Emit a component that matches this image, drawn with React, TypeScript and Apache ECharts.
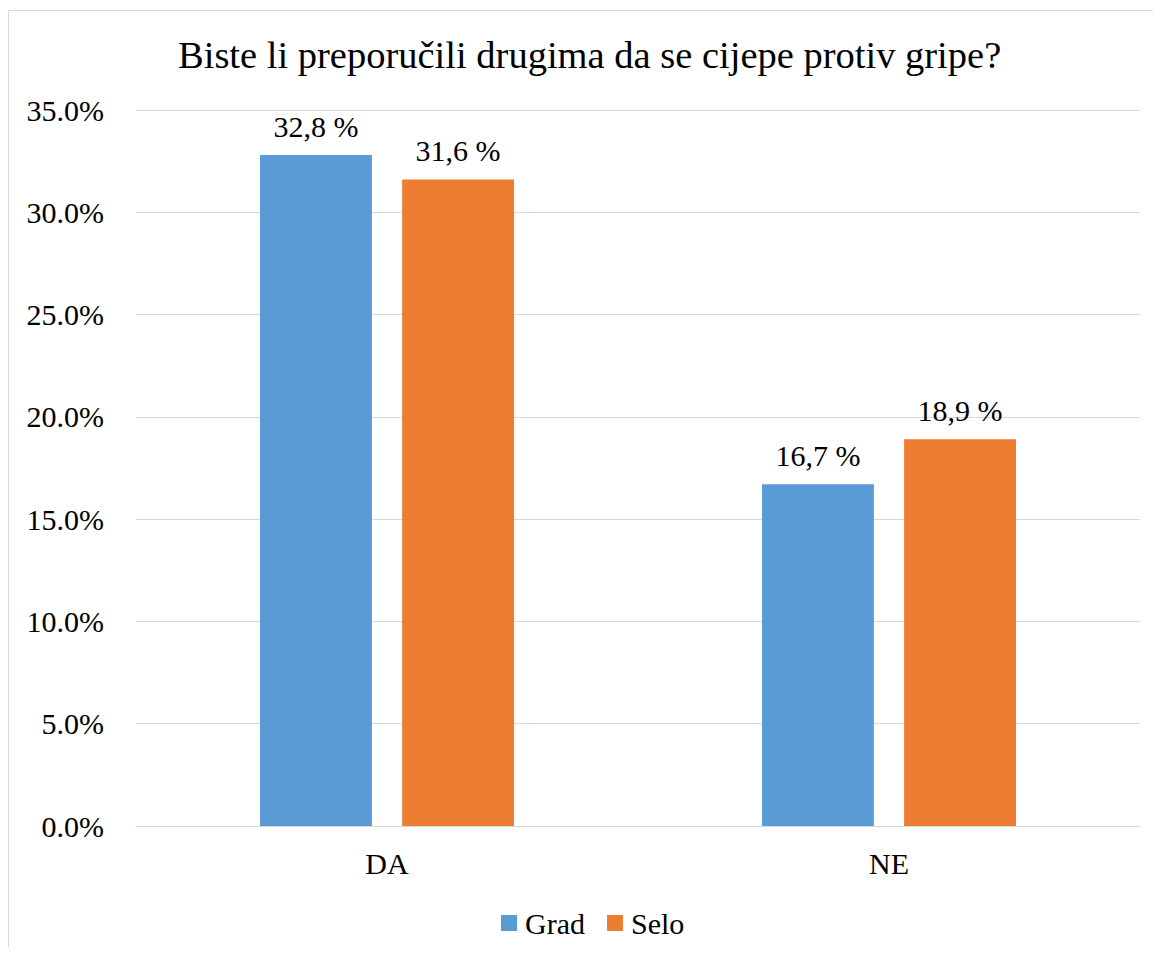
import React, { useEffect, useRef } from "react";
import * as echarts from "echarts";

const categories = ["DA", "NE"];
const gradValues = [32.8, 16.7];
const seloValues = [31.6, 18.9];
const seriesNames = ["Grad", "Selo"];
const titleText = "Biste li preporučili drugima da se cijepe protiv gripe?";

const FONT = "Liberation Serif";

export default function App() {
  const ref = useRef<HTMLDivElement>(null);
  useEffect(() => {
    if (!ref.current) return;
    const chart = echarts.init(ref.current, null, { renderer: "svg" });
    const labelFmt = (p: any) => p.value.toFixed(1).replace(".", ",") + " %";
    const barLabel = {
      show: true,
      position: "top",
      distance: 14,
      formatter: labelFmt,
      fontFamily: FONT,
      fontSize: 30,
      color: "#000",
    };
    chart.setOption({
      animation: false,
      backgroundColor: "#ffffff",
      textStyle: { fontFamily: FONT },
      title: {
        text: titleText,
        left: 165,
        top: 22,
        textStyle: { fontFamily: FONT, fontSize: 38.5, fontWeight: "normal", color: "#000" },
      },
      graphic: [
        {
          type: "rect",
          shape: { x: 0.5, y: 2.5, width: 3000, height: 3000 },
          style: { fill: "none", stroke: "#d9d9d9", lineWidth: 1 },
          silent: true,
        },
      ],
      legend: {
        bottom: 4,
        left: 488,
        itemWidth: 16,
        itemHeight: 16,
        itemGap: 22,
        icon: "rect",
        textStyle: { fontFamily: FONT, fontSize: 30, color: "#000", padding: [0, 0, 0, 3] },
        data: seriesNames,
      },
      grid: { left: 128, right: 13, top: 102, bottom: 121 },
      xAxis: {
        type: "category",
        data: categories,
        axisTick: { show: false },
        axisLine: { lineStyle: { color: "#d9d9d9", width: 1 } },
        axisLabel: { fontFamily: FONT, fontSize: 30, color: "#000", margin: 22 },
      },
      yAxis: {
        type: "value",
        min: 0,
        max: 35,
        interval: 5,
        axisLine: { show: false },
        axisTick: { show: false },
        splitLine: { lineStyle: { color: "#d9d9d9", width: 1 } },
        axisLabel: {
          fontFamily: FONT,
          fontSize: 30,
          color: "#000",
          margin: 32,
          formatter: (v: number) => v.toFixed(1) + "%",
        },
      },
      series: [
        {
          name: seriesNames[0],
          type: "bar",
          data: gradValues,
          barGap: "27%",
          barCategoryGap: "49.4%",
          itemStyle: { color: "#5b9bd5" },
          label: barLabel,
        },
        {
          name: seriesNames[1],
          type: "bar",
          data: seloValues,
          barGap: "27%",
          barCategoryGap: "49.4%",
          itemStyle: { color: "#ed7d31" },
          label: barLabel,
        },
      ],
    });
    return () => chart.dispose();
  }, []);
  return <div ref={ref} style={{ width: 1145, height: 939 }} />;
}
